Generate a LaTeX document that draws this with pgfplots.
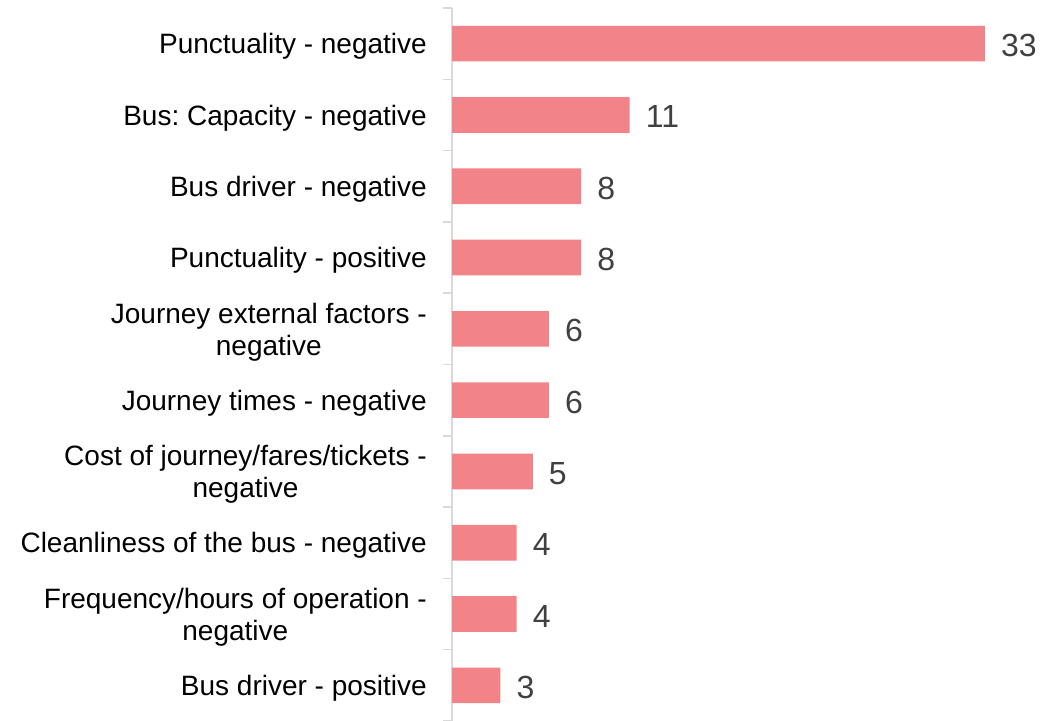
\documentclass[border=0pt]{standalone}
\usepackage{pgfplots}
\pgfplotsset{compat=1.18}
\usepackage{fontspec}
\setmainfont{Liberation Sans}
\frenchspacing
\definecolor{barc}{RGB}{241,131,137}
\definecolor{axc}{RGB}{217,217,217}
\definecolor{numc}{RGB}{64,64,64}
\begin{document}
\begin{tikzpicture}
\path[use as bounding box] (0,0) rectangle (1057pt,720pt);
\begin{axis}[
  at={(452pt,-1pt)}, anchor=south west,
  scale only axis, width=581.4pt, height=713pt,
  xmin=0, xmax=36, ymin=-0.5, ymax=9.5,
  y dir=reverse,
  /pgf/number format/assume math mode=true,
  axis y line*=left, axis x line=none,
  axis line style={axc, line width=1.5pt},
  ytick={0,...,9},
  yticklabels={{Punctuality - negative},{Bus: Capacity - negative},{Bus driver - negative},{Punctuality - positive},{Journey external factors -\\negative},{Journey times - negative},{Cost of journey/fares/tickets -\\negative},{Cleanliness of the bus - negative},{Frequency/hours of operation -\\negative},{Bus driver - positive}},
  major tick length=0pt,
  minor ytick={-0.5,0.5,...,9.5},
  minor tick length=9pt,
  tick align=outside,
  minor tick style={axc, line width=1.5pt},
  yticklabel style={anchor=east, align=center, inner sep=0pt, xshift=-25pt, yshift=-3pt, font=\fontsize{28}{32}\selectfont, text=black},
  clip=false,
]
\addplot[xbar, bar width=0.5, fill=barc, draw=none,
  nodes near coords,
  nodes near coords style={anchor=west, inner sep=0pt, xshift=16pt, yshift=-2pt, text=numc, font=\fontsize{32}{36}\selectfont}]
  coordinates {(33,0) (11,1) (8,2) (8,3) (6,4) (6,5) (5,6) (4,7) (4,8) (3,9)};
\end{axis}
\end{tikzpicture}
\end{document}
